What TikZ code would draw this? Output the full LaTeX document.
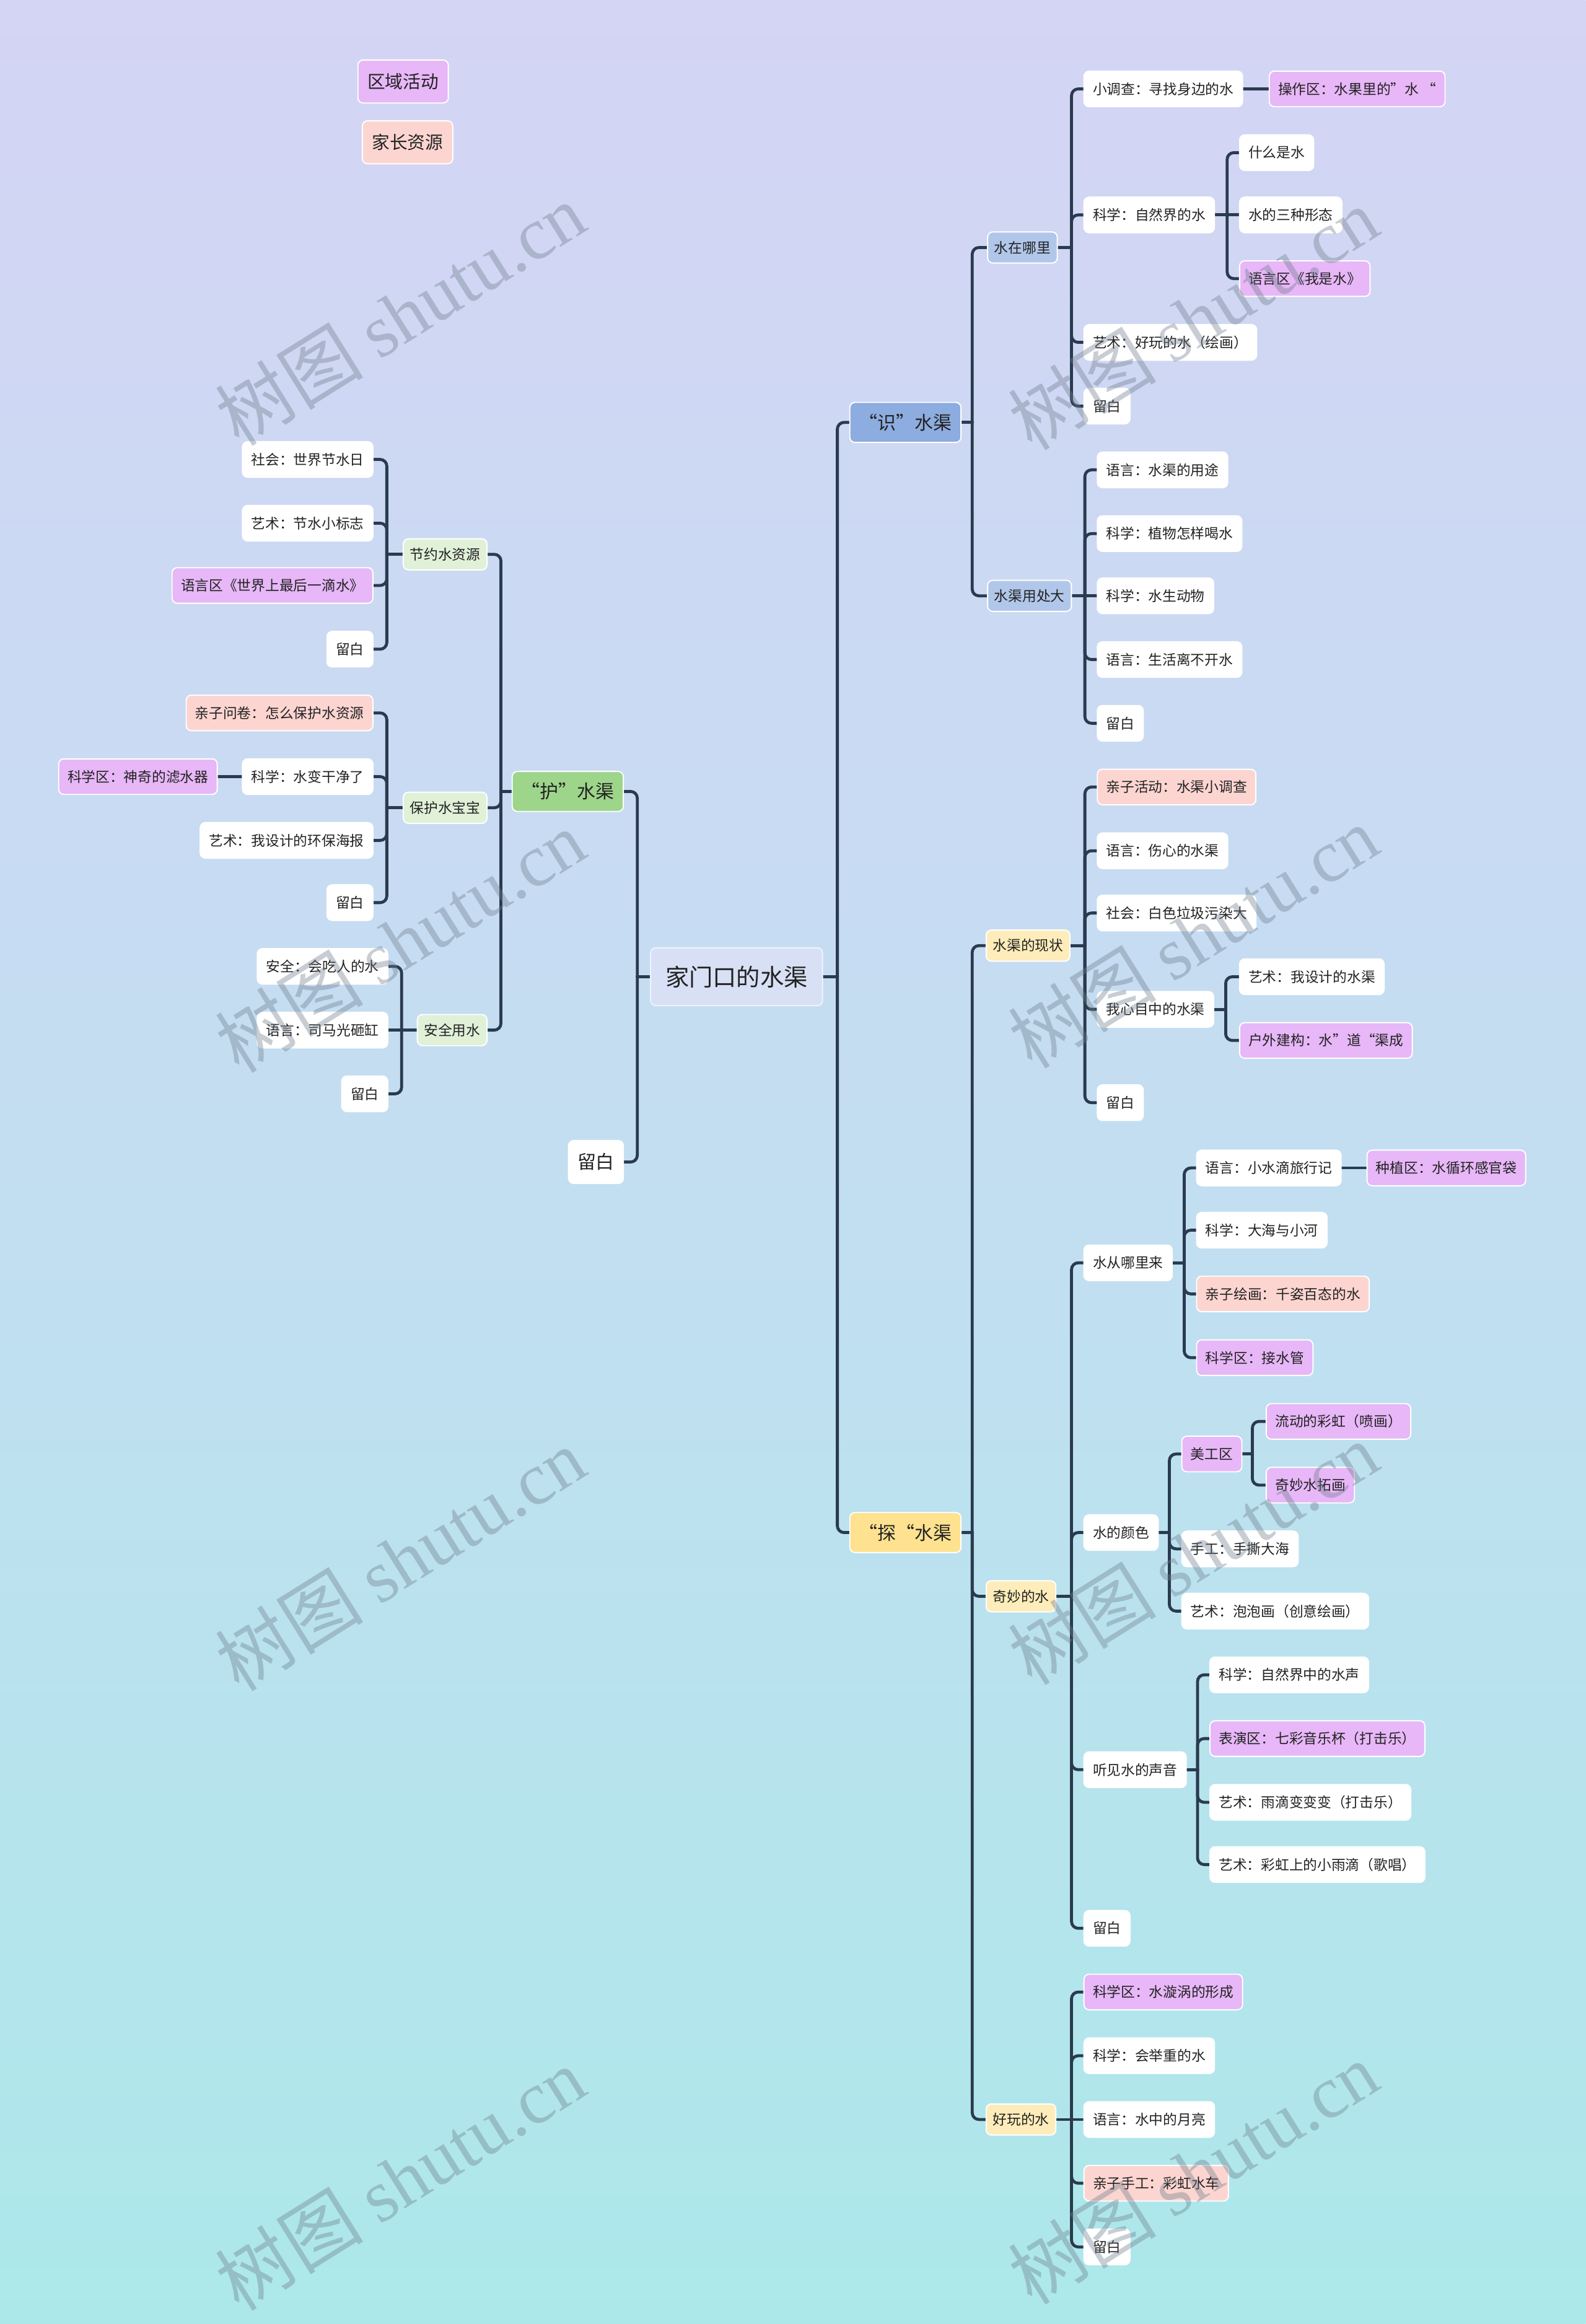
\documentclass[tikz,border=0pt]{standalone}
\usepackage{fontspec}
\setmainfont{Noto Sans CJK SC}
\newfontfamily\wmfont{Liberation Serif}
\pgfdeclarelayer{back}\pgfdeclarelayer{lines}\pgfdeclarelayer{front}
\pgfsetlayers{back,lines,main,front}
\definecolor{zonec}{HTML}{E7B7F7}
\definecolor{homec}{HTML}{FCD5D1}
\definecolor{lonebl}{HTML}{8DACDF}
\definecolor{ltwobl}{HTML}{B1C7EA}
\definecolor{lonegr}{HTML}{9DD58A}
\definecolor{ltwogr}{HTML}{E0F1D8}
\definecolor{loneye}{HTML}{FEE28F}
\definecolor{ltwoye}{HTML}{FEEDBA}
\definecolor{rootc}{HTML}{D8E0F5}
\definecolor{linec}{HTML}{2A3B4F}
\definecolor{txt}{HTML}{222222}
\definecolor{bgtop}{HTML}{D4D4F4}
\definecolor{bgmid}{HTML}{C3DEF1}
\definecolor{bgbot}{HTML}{ACE8EA}
\definecolor{wmc}{HTML}{6E7D8C}
\tikzset{
  base/.style={rounded corners=3.5pt, draw=white, line width=0.8pt, text=txt,
    font=\fontsize{9.5}{11}\selectfont, inner xsep=6pt, inner ysep=0pt, minimum height=24pt},
  leaf/.style={base, fill=white},
  zone/.style={base, fill=zonec},
  home/.style={base, fill=homec},
  ltwo/.style={base, minimum height=21pt, inner xsep=4.5pt},
  lone/.style={base, minimum height=27pt, minimum width=75pt, font=\fontsize{12.5}{14}\selectfont},
  rootbox/.style={base, fill=rootc, draw=white!60!rootc, minimum height=39pt, inner xsep=10pt,
    font=\fontsize{16}{18}\selectfont},
  legend/.style={base, minimum height=29pt, inner xsep=6.5pt, font=\fontsize{12}{14}\selectfont},
  conn/.style={draw=linec, line width=2pt, line cap=round},
  wm/.style={text=wmc, opacity=0.38, rotate=32, font=\fontsize{50}{52}\selectfont, inner sep=0pt}
}
% right-going connector: parent, child, trunk x
\newcommand\lnR[3]{\begin{pgfonlayer}{lines}
  \draw[conn] (#1.east) -- (#3,0 |- #1.east);
  \draw[conn, rounded corners=4.5pt] (#3,0 |- #1.east) |- (#2.west);
\end{pgfonlayer}}
% left-going connector
\newcommand\lnL[3]{\begin{pgfonlayer}{lines}
  \draw[conn] (#1.west) -- (#3,0 |- #1.west);
  \draw[conn, rounded corners=4.5pt] (#3,0 |- #1.west) |- (#2.east);
\end{pgfonlayer}}
% straight connectors
\newcommand\lnSR[2]{\begin{pgfonlayer}{lines}\draw[conn] (#1.east) -- (#2.west);\end{pgfonlayer}}
\newcommand\lnSL[2]{\begin{pgfonlayer}{lines}\draw[conn] (#1.west) -- (#2.east);\end{pgfonlayer}}

\begin{document}
\begin{tikzpicture}[x=1pt, y=-1pt]
\useasboundingbox (0,0) rectangle (1070,1568);
\begin{pgfonlayer}{back}
  \shade[top color=bgtop, bottom color=bgbot, middle color=bgmid] (0,0) rectangle (1070,1568);
\end{pgfonlayer}

% legend
\node[legend, fill=zonec] (lgz) at (272,55) {区域活动};
\node[legend, fill=homec] (lgh) at (275,96) {家长资源};

% root
\node[rootbox] (root) at (497,659) {家门口的水渠};

% ---------- right: 识 ----------
\node[lone, fill=lonebl, anchor=west] (shi) at (573,285) {“识”水渠};
\node[ltwo, fill=ltwobl, anchor=west] (zai) at (666,167) {水在哪里};
\node[ltwo, fill=ltwobl, anchor=west] (yong) at (666,402) {水渠用处大};

\node[leaf, anchor=west] (a1) at (731,60) {小调查：寻找身边的水};
\node[zone, anchor=west] (a1z) at (856,60) {操作区：水果里的”水 “};
\node[leaf, anchor=west] (a2) at (731,145) {科学：自然界的水};
\node[leaf, anchor=west] (a21) at (836,103) {什么是水};
\node[leaf, anchor=west] (a22) at (836,145) {水的三种形态};
\node[zone, anchor=west] (a23) at (836,188) {语言区《我是水》};
\node[leaf, anchor=west] (a3) at (731,231) {艺术：好玩的水（绘画）};
\node[leaf, anchor=west] (a4) at (731,274) {留白};

\node[leaf, anchor=west] (b1) at (740,317) {语言：水渠的用途};
\node[leaf, anchor=west] (b2) at (740,360) {科学：植物怎样喝水};
\node[leaf, anchor=west] (b3) at (740,402) {科学：水生动物};
\node[leaf, anchor=west] (b4) at (740,445) {语言：生活离不开水};
\node[leaf, anchor=west] (b5) at (740,488) {留白};

% ---------- right: 探 ----------
\node[lone, fill=loneye, anchor=west] (tan) at (573,1034) {“探“水渠};
\node[ltwo, fill=ltwoye, anchor=west] (xz) at (665,638) {水渠的现状};
\node[ltwo, fill=ltwoye, anchor=west] (qm) at (665,1077) {奇妙的水};
\node[ltwo, fill=ltwoye, anchor=west] (hw) at (665,1430) {好玩的水};

\node[home, anchor=west] (c1) at (740,531) {亲子活动：水渠小调查};
\node[leaf, anchor=west] (c2) at (740,574) {语言：伤心的水渠};
\node[leaf, anchor=west] (c3) at (740,616) {社会：白色垃圾污染大};
\node[leaf, anchor=west] (c4) at (740,681) {我心目中的水渠};
\node[leaf, anchor=west] (c41) at (836,659) {艺术：我设计的水渠};
\node[zone, anchor=west] (c42) at (836,702) {户外建构：水”道“渠成};
\node[leaf, anchor=west] (c5) at (740,744) {留白};

\node[leaf, anchor=west] (d1) at (731,852) {水从哪里来};
\node[leaf, anchor=west] (d11) at (807,788) {语言：小水滴旅行记};
\node[zone, anchor=west] (d11z) at (922,788) {种植区：水循环感官袋};
\node[leaf, anchor=west] (d12) at (807,830) {科学：大海与小河};
\node[home, anchor=west] (d13) at (807,873) {亲子绘画：千姿百态的水};
\node[zone, anchor=west] (d14) at (807,916) {科学区：接水管};

\node[leaf, anchor=west] (d2) at (731,1034) {水的颜色};
\node[zone, anchor=west] (d21) at (797,981) {美工区};
\node[zone, anchor=west] (d211) at (854,959) {流动的彩虹（喷画）};
\node[zone, anchor=west] (d212) at (854,1002) {奇妙水拓画};
\node[leaf, anchor=west] (d22) at (797,1045) {手工：手撕大海};
\node[leaf, anchor=west] (d23) at (797,1087) {艺术：泡泡画（创意绘画）};

\node[leaf, anchor=west] (d3) at (731,1194) {听见水的声音};
\node[leaf, anchor=west] (d31) at (816,1130) {科学：自然界中的水声};
\node[zone, anchor=west] (d32) at (816,1173) {表演区：七彩音乐杯（打击乐）};
\node[leaf, anchor=west] (d33) at (816,1216) {艺术：雨滴变变变（打击乐）};
\node[leaf, anchor=west] (d34) at (816,1258) {艺术：彩虹上的小雨滴（歌唱）};
\node[leaf, anchor=west] (d4) at (731,1301) {留白};

\node[zone, anchor=west] (e1) at (731,1344) {科学区：水漩涡的形成};
\node[leaf, anchor=west] (e2) at (731,1387) {科学：会举重的水};
\node[leaf, anchor=west] (e3) at (731,1430) {语言：水中的月亮};
\node[home, anchor=west] (e4) at (731,1473) {亲子手工：彩虹水车};
\node[leaf, anchor=west] (e5) at (731,1516) {留白};

% ---------- left: 护 ----------
\node[lone, fill=lonegr, anchor=east] (hu) at (421,534) {“护”水渠};
\node[lone, fill=white, minimum width=37pt, minimum height=29pt, inner xsep=4pt, anchor=east] (lb0) at (421,784) {留白};
\node[ltwo, fill=ltwogr, anchor=east] (jy) at (329,374) {节约水资源};
\node[ltwo, fill=ltwogr, anchor=east] (bh) at (329,545) {保护水宝宝};
\node[ltwo, fill=ltwogr, anchor=east] (aq) at (329,695) {安全用水};

\node[leaf, anchor=east] (f1) at (252,310) {社会：世界节水日};
\node[leaf, anchor=east] (f2) at (252,353) {艺术：节水小标志};
\node[zone, anchor=east] (f3) at (252,395) {语言区《世界上最后一滴水》};
\node[leaf, anchor=east] (f4) at (252,438) {留白};

\node[home, anchor=east] (g1) at (252,481) {亲子问卷：怎么保护水资源};
\node[leaf, anchor=east] (g2) at (252,524) {科学：水变干净了};
\node[zone, anchor=east] (g2z) at (147,524) {科学区：神奇的滤水器};
\node[leaf, anchor=east] (g3) at (252,567) {艺术：我设计的环保海报};
\node[leaf, anchor=east] (g4) at (252,609) {留白};

\node[leaf, anchor=east] (h1) at (262,652) {安全：会吃人的水};
\node[leaf, anchor=east] (h2) at (262,695) {语言：司马光砸缸};
\node[leaf, anchor=east] (h3) at (262,738) {留白};

% ---------- connectors ----------
\lnR{root}{shi}{565} \lnR{root}{tan}{565}
\lnL{root}{hu}{430} \lnL{root}{lb0}{430}

\lnR{shi}{zai}{656} \lnR{shi}{yong}{656}
\lnR{zai}{a1}{723} \lnR{zai}{a2}{723} \lnR{zai}{a3}{723} \lnR{zai}{a4}{723}
\lnSR{a1}{a1z}
\lnR{a2}{a21}{828} \lnSR{a2}{a22} \lnR{a2}{a23}{828}
\lnR{yong}{b1}{732} \lnR{yong}{b2}{732} \lnSR{yong}{b3} \lnR{yong}{b4}{732} \lnR{yong}{b5}{732}

\lnR{tan}{xz}{656} \lnR{tan}{qm}{656} \lnR{tan}{hw}{656}
\lnR{xz}{c1}{732} \lnR{xz}{c2}{732} \lnR{xz}{c3}{732} \lnR{xz}{c4}{732} \lnR{xz}{c5}{732}
\lnR{c4}{c41}{827} \lnR{c4}{c42}{827}
\lnR{qm}{d1}{723} \lnR{qm}{d2}{723} \lnR{qm}{d3}{723} \lnR{qm}{d4}{723}
\lnR{d1}{d11}{799} \lnR{d1}{d12}{799} \lnR{d1}{d13}{799} \lnR{d1}{d14}{799}
\lnSR{d11}{d11z}
\lnR{d2}{d21}{789} \lnR{d2}{d22}{789} \lnR{d2}{d23}{789}
\lnR{d21}{d211}{845} \lnR{d21}{d212}{845}
\lnR{d3}{d31}{808} \lnR{d3}{d32}{808} \lnR{d3}{d33}{808} \lnR{d3}{d34}{808}
\lnR{hw}{e1}{723} \lnR{hw}{e2}{723} \lnSR{hw}{e3} \lnR{hw}{e4}{723} \lnR{hw}{e5}{723}

\lnL{hu}{jy}{338} \lnL{hu}{bh}{338} \lnL{hu}{aq}{338}
\lnL{jy}{f1}{261} \lnL{jy}{f2}{261} \lnL{jy}{f3}{261} \lnL{jy}{f4}{261}
\lnL{bh}{g1}{261} \lnL{bh}{g2}{261} \lnL{bh}{g3}{261} \lnL{bh}{g4}{261}
\lnSL{g2}{g2z}
\lnL{aq}{h1}{271} \lnSL{aq}{h2} \lnL{aq}{h3}{271}

% ---------- watermarks ----------
\begin{pgfonlayer}{front}
\foreach \wx/\wy [count=\i] in {270/212, 805/215, 270/635, 805/632, 270/1052, 805/1048, 270/1470, 805/1466}{
  \node[wm] (wm\i) at (\wx,\wy) {树图 {\wmfont shutu.cn}};
}
\end{pgfonlayer}
\end{tikzpicture}
\end{document}
